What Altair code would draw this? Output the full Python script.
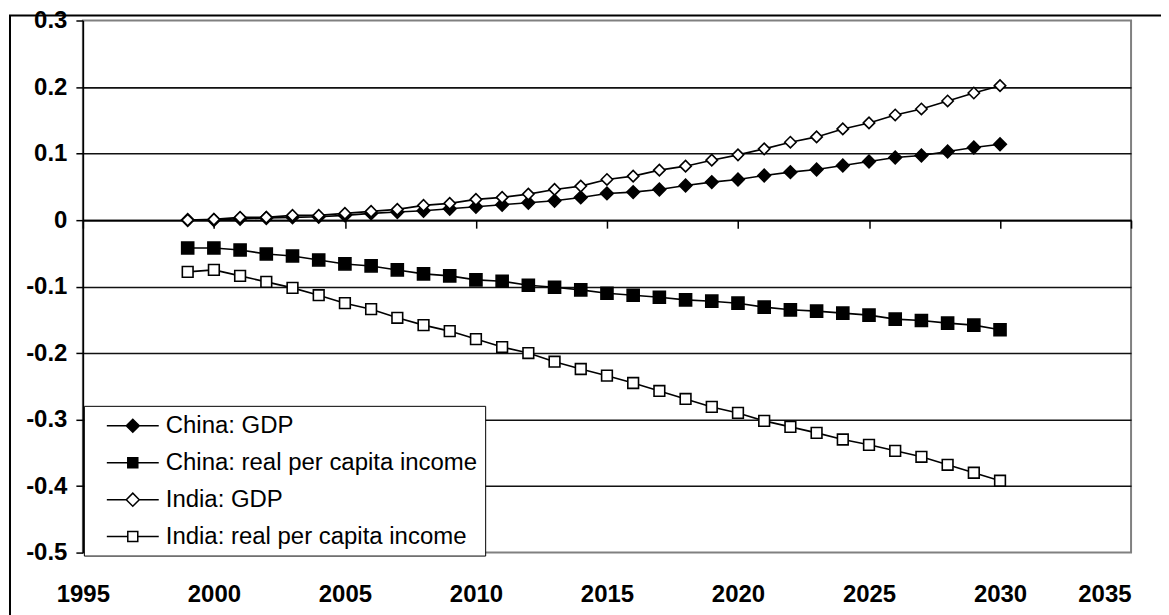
import altair as alt
import pandas as pd

years = list(range(1999, 2031))
series_names = ["China: GDP", "China: real per capita income", "India: GDP", "India: real per capita income"]

china_gdp = [0.000, 0.000, 0.002, 0.003, 0.004, 0.005, 0.007, 0.010, 0.012, 0.014, 0.017, 0.020,
             0.023, 0.026, 0.029, 0.034, 0.040, 0.042, 0.046, 0.052, 0.057, 0.061, 0.067, 0.072,
             0.076, 0.082, 0.088, 0.094, 0.097, 0.103, 0.109, 0.114]
china_pc = [-0.042, -0.042, -0.045, -0.051, -0.054, -0.060, -0.066, -0.069, -0.075, -0.081, -0.084, -0.090,
            -0.092, -0.098, -0.101, -0.105, -0.110, -0.113, -0.116, -0.120, -0.122, -0.125, -0.131, -0.135,
            -0.137, -0.140, -0.143, -0.149, -0.151, -0.155, -0.158, -0.165]
india_gdp = [0.000, 0.001, 0.004, 0.004, 0.007, 0.007, 0.010, 0.013, 0.016, 0.022, 0.025, 0.031,
             0.034, 0.039, 0.046, 0.051, 0.061, 0.066, 0.075, 0.081, 0.090, 0.098, 0.107, 0.117,
             0.125, 0.137, 0.146, 0.158, 0.167, 0.179, 0.191, 0.202]
india_pc = [-0.078, -0.075, -0.084, -0.093, -0.102, -0.113, -0.125, -0.134, -0.147, -0.158, -0.167, -0.179,
            -0.191, -0.200, -0.213, -0.224, -0.234, -0.245, -0.257, -0.269, -0.281, -0.290, -0.302, -0.311,
            -0.320, -0.330, -0.338, -0.347, -0.356, -0.368, -0.380, -0.392]

x_ticks = [1995, 2000, 2005, 2010, 2015, 2020, 2025, 2030, 2035]
y_ticks = [-0.5, -0.4, -0.3, -0.2, -0.1, 0, 0.1, 0.2, 0.3]

rows = []
for name, vals in zip(series_names, [china_gdp, china_pc, india_gdp, india_pc]):
    for yr, v in zip(years, vals):
        rows.append({"year": yr, "value": v, "series": name})
df = pd.DataFrame(rows)

FONT = "Arial, Liberation Sans, sans-serif"

xscale = alt.Scale(domain=[1995, 2035], nice=False, zero=False)
yscale = alt.Scale(domain=[-0.5, 0.3], nice=False, zero=False)

y_axis = alt.Axis(
    values=y_ticks, title=None, grid=True, orient="left",
    gridColor={"condition": {"test": "datum.value > 0.25 || datum.value < -0.45", "value": "transparent"}, "value": "#111111"},
    gridWidth=1.6, domainColor="black", domainWidth=1.6, tickColor="black", tickWidth=1.5, tickSize=7,
    labelFont=FONT, labelFontSize=24, labelFontWeight="bold", labelColor="black", labelPadding=9,
    labelExpr="datum.value < 0 ? '-' + format(-datum.value, '.1~f') : format(datum.value, '.1~f')",
)
y_enc = alt.Y("value:Q", scale=yscale, axis=y_axis)

x_axis_zero = alt.Axis(
    values=x_ticks, title=None, grid=False, labels=False, offset=-333, orient="bottom",
    domain=True, domainColor="black", domainWidth=1.6, ticks=True, tickColor="black", tickWidth=1.5, tickSize=8,
)
x_axis_labels = alt.Axis(
    values=x_ticks, title=None, grid=False, ticks=False, domain=False, format="d", orient="bottom",
    labelFont=FONT, labelFontSize=24, labelFontWeight="bold", labelColor="black", labelPadding=30,
    labelFlush=False, labelOverlap=False, labelBound=False,
    labelAlign={"condition": {"test": "datum.value == 2035", "value": "right"}, "value": "center"},
)

# legend symbol paths (unit = 12 px for symbolSize 576)
ln = 2.167
dm = 0.542
sq = 0.417
line_gap_d = f"M-{ln},0H-{dm}M{dm},0H{ln}"
line_gap_s = f"M-{ln},0H-{sq}M{sq},0H{ln}"
diamond = f"M-{dm},0L0,-{dm}L{dm},0L0,{dm}Z"
square = f"M-{sq},-{sq}H{sq}V{sq}H-{sq}Z"
legend_shapes = [line_gap_d + diamond, line_gap_s + square, line_gap_d + diamond, line_gap_s + square]
fills = ["black", "black", "white", "white"]
strokes = ["black", "black", "black", "black"]

legend_spec = alt.Legend(
    title=None, orient="none", legendX=1, legendY=386,
    fillColor="white", strokeColor="black", padding=7,
    symbolSize=576, symbolOffset=29, labelOffset=20, rowPadding=12,
    labelFont=FONT, labelFontSize=24, labelColor="black", labelLimit=600,
    labelExpr="datum.label + '\u00a0\u00a0'",
    symbolStrokeColor="black", symbolStrokeWidth=1.5, symbolOpacity=1,
)

border = alt.Chart(pd.DataFrame({"a": [0]})).mark_rect(
    filled=False, stroke="black", strokeWidth=2
).encode(
    x=alt.value(-73), x2=alt.value(1085), y=alt.value(-5), y2=alt.value(620)
)

lines = alt.Chart(df).mark_line(color="black", strokeWidth=1.6).encode(
    x=alt.X("year:Q", scale=xscale, axis=x_axis_zero),
    y=y_enc,
    detail="series:N",
)

points = alt.Chart(df).mark_point(filled=True, stroke="black", strokeWidth=1.6, opacity=1).encode(
    x=alt.X("year:Q", scale=xscale, axis=x_axis_labels),
    y=y_enc,
    shape=alt.Shape("series:N", scale=alt.Scale(domain=series_names, range=["diamond", "square", "diamond", "square"]), legend=None),
    fill=alt.Fill("series:N", scale=alt.Scale(domain=series_names, range=fills), legend=None),
    size=alt.Size("series:N", scale=alt.Scale(domain=series_names, range=[160, 115, 160, 115]), legend=None),
)

legend_layer = alt.Chart(df).transform_filter("false").mark_point(
    filled=False, strokeWidth=1.5, opacity=1
).encode(
    x=alt.X("year:Q", scale=xscale, axis=None),
    y=y_enc,
    shape=alt.Shape("series:N", scale=alt.Scale(domain=series_names, range=legend_shapes), legend=legend_spec),
    fill=alt.Fill("series:N", scale=alt.Scale(domain=series_names, range=fills), legend=legend_spec),
    stroke=alt.Stroke("series:N", scale=alt.Scale(domain=series_names, range=strokes), legend=legend_spec),
)

chart = alt.layer(border, lines, points, legend_layer).resolve_axis(x="independent").resolve_scale(
    shape="independent", fill="independent", stroke="independent"
).properties(
    width=1050, height=533,
    autosize=alt.AutoSizeParams(type="none"),
    padding={"left": 75, "top": 12, "right": 30, "bottom": 62},
    background="white",
).configure_view(stroke="#808080", strokeWidth=2)

chart.save("out.html", embed_options={"renderer": "svg", "actions": False})
